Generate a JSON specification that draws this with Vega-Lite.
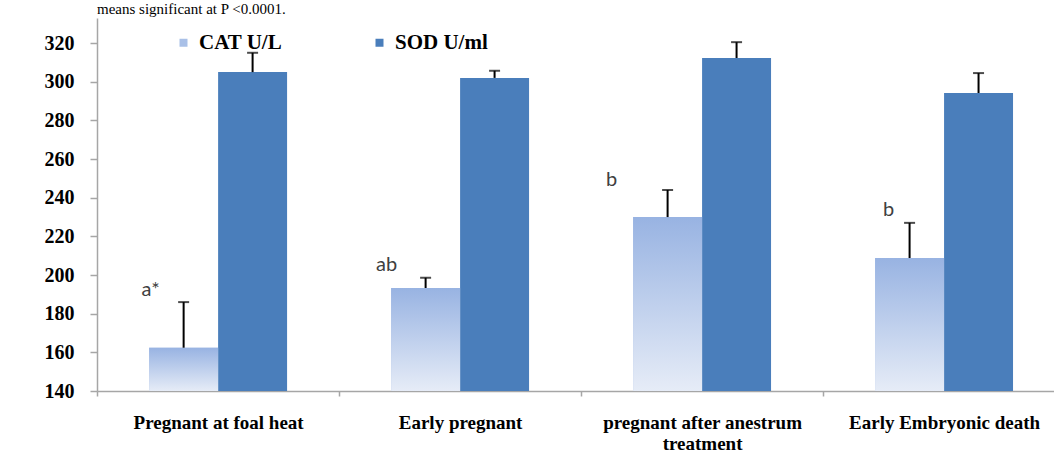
{
  "$schema": "https://vega.github.io/schema/vega-lite/v6.json",
  "width": 957,
  "height": 373,
  "autosize": {"type": "none"},
  "padding": {"left": 97, "top": 18, "right": 0, "bottom": 84},
  "background": "white",
  "config": {"view": {"stroke": null}, "font": "Liberation Serif"},
  "title": {
    "text": "means significant at P <0.0001.",
    "anchor": "start",
    "frame": "group",
    "offset": 1,
    "fontSize": 15,
    "fontWeight": "normal",
    "font": "Liberation Serif",
    "color": "black"
  },
  "data": {
    "values": [
      {"category": "Pregnant at foal heat", "series": "CAT U/L", "value": 162.4, "upper": 186, "sig": "a*"},
      {"category": "Pregnant at foal heat", "series": "SOD U/ml", "value": 305, "upper": 315},
      {"category": "Early pregnant", "series": "CAT U/L", "value": 193.3, "upper": 198.6, "sig": "ab"},
      {"category": "Early pregnant", "series": "SOD U/ml", "value": 302, "upper": 305.7},
      {"category": "pregnant after anestrum treatment", "series": "CAT U/L", "value": 230, "upper": 244, "sig": "b"},
      {"category": "pregnant after anestrum treatment", "series": "SOD U/ml", "value": 312.3, "upper": 320.5},
      {"category": "Early Embryonic death", "series": "CAT U/L", "value": 208.8, "upper": 227, "sig": "b"},
      {"category": "Early Embryonic death", "series": "SOD U/ml", "value": 294.2, "upper": 304.5}
    ]
  },
  "encoding": {
    "x": {
      "field": "category",
      "type": "nominal",
      "sort": null,
      "scale": {"paddingInner": 0.43, "paddingOuter": 0.1924, "align": 0.56},
      "axis": {
        "title": null,
        "labelAngle": 0,
        "domainColor": "#a6a6a6",
        "domainWidth": 1.5,
        "tickColor": "#a6a6a6",
        "tickWidth": 1.5,
        "tickSize": 5,
        "tickOffset": -121,
        "labelOffset": 121,
        "labelPadding": 17,
        "labelFont": "Liberation Serif",
        "labelFontSize": 19,
        "labelFontWeight": "bold",
        "labelColor": "black",
        "labelLimit": 0,
        "labelLineHeight": 21,
        "labelExpr": "datum.label == 'pregnant after anestrum treatment' ? ['pregnant after anestrum', 'treatment'] : datum.label"
      }
    },
    "xOffset": {
      "field": "series",
      "type": "nominal",
      "sort": null,
      "scale": {"domain": ["CAT U/L", "SOD U/ml"], "paddingInner": 0, "paddingOuter": 0}
    },
    "y": {
      "field": "value",
      "type": "quantitative",
      "scale": {"domain": [140, 333], "zero": false, "nice": false},
      "axis": {
        "title": null,
        "values": [140, 160, 180, 200, 220, 240, 260, 280, 300, 320],
        "grid": false,
        "domainColor": "#a6a6a6",
        "domainWidth": 1.5,
        "tickColor": "#a6a6a6",
        "tickWidth": 1.5,
        "tickSize": 7,
        "labelPadding": 16,
        "labelFont": "Liberation Serif",
        "labelFontSize": 20,
        "labelFontWeight": "bold",
        "labelColor": "black"
      }
    }
  },
  "layer": [
    {
      "mark": {"type": "bar", "clip": true},
      "encoding": {
        "y2": {"datum": 140},
        "color": {
          "field": "series",
          "type": "nominal",
          "scale": {"domain": ["CAT U/L", "SOD U/ml"], "range": ["#a9c0e7", "#4a7ebb"]},
          "legend": {
            "orient": "none",
            "legendX": 76,
            "legendY": 14,
            "direction": "horizontal",
            "title": null,
            "padding": 0,
            "symbolType": "square",
            "symbolSize": 64,
            "symbolStrokeWidth": 0,
            "labelFont": "Liberation Serif",
            "labelFontSize": 21,
            "labelFontWeight": "bold",
            "labelColor": "black",
            "labelOffset": 5,
            "columnPadding": 86
          }
        }
      }
    },
    {
      "transform": [{"filter": "datum.series == 'CAT U/L'"}],
      "mark": {
        "type": "bar",
        "clip": true,
        "color": {
          "gradient": "linear",
          "x1": 0, "y1": 0, "x2": 0, "y2": 1,
          "stops": [
            {"offset": 0, "color": "#98b3e2"},
            {"offset": 1, "color": "#e6ecf7"}
          ]
        }
      },
      "encoding": {"y2": {"datum": 140}}
    },
    {
      "mark": {"type": "rule", "color": "black", "strokeWidth": 2},
      "encoding": {"y2": {"field": "upper"}}
    },
    {
      "mark": {"type": "tick", "color": "black", "thickness": 2, "size": 11},
      "encoding": {"y": {"field": "upper", "type": "quantitative"}}
    },
    {
      "transform": [{"filter": "datum.category == 'Pregnant at foal heat' && datum.series == 'CAT U/L'"}],
      "mark": {"type": "text", "font": "Lato", "fontSize": 20, "color": "#404040", "baseline": "middle", "align": "center", "dx": -33, "dy": -12},
      "encoding": {"y": {"field": "upper", "type": "quantitative"}, "text": {"field": "sig"}}
    },
    {
      "transform": [{"filter": "datum.category == 'Early pregnant' && datum.series == 'CAT U/L'"}],
      "mark": {"type": "text", "font": "Lato", "fontSize": 20, "color": "#404040", "baseline": "middle", "align": "center", "dx": -39, "dy": -13},
      "encoding": {"y": {"field": "upper", "type": "quantitative"}, "text": {"field": "sig"}}
    },
    {
      "transform": [{"filter": "datum.category == 'pregnant after anestrum treatment' && datum.series == 'CAT U/L'"}],
      "mark": {"type": "text", "font": "Lato", "fontSize": 20, "color": "#404040", "baseline": "middle", "align": "center", "dx": -56, "dy": -10},
      "encoding": {"y": {"field": "upper", "type": "quantitative"}, "text": {"field": "sig"}}
    },
    {
      "transform": [{"filter": "datum.category == 'Early Embryonic death' && datum.series == 'CAT U/L'"}],
      "mark": {"type": "text", "font": "Lato", "fontSize": 20, "color": "#404040", "baseline": "middle", "align": "center", "dx": -21, "dy": -13},
      "encoding": {"y": {"field": "upper", "type": "quantitative"}, "text": {"field": "sig"}}
    }
  ]
}
